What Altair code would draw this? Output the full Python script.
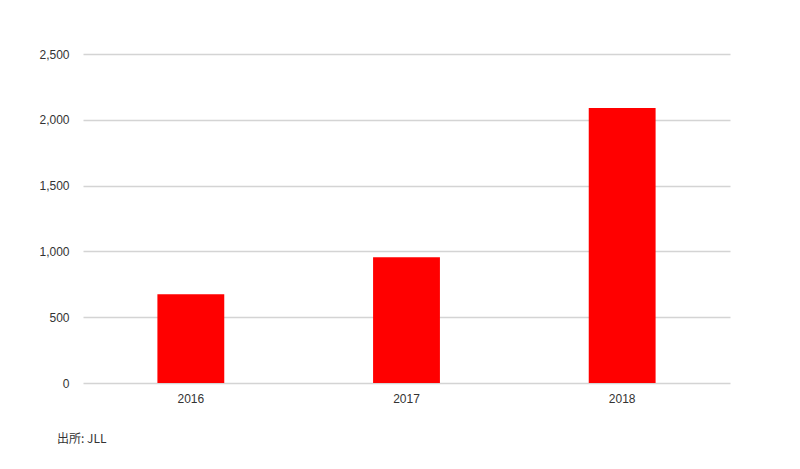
import altair as alt
import pandas as pd

years = ["2016", "2017", "2018"]
values = [675, 955, 2090]
source_text = "出所: JLL"

df = pd.DataFrame({"year": years, "value": values})

bars = alt.Chart(df).mark_bar(color="#ff0000").encode(
    x=alt.X("year:N", sort=years,
            scale=alt.Scale(paddingInner=0.69, paddingOuter=0.345),
            axis=alt.Axis(title=None, labelAngle=0, ticks=False, domain=False, grid=False,
                          labelPadding=10, labelFontSize=12, labelColor="#333333",
                          labelFont="Liberation Sans")),
    y=alt.Y("value:Q", scale=alt.Scale(domain=[0, 2500], nice=False),
            axis=alt.Axis(title=None, values=[0, 500, 1000, 1500, 2000, 2500],
                          format=",d", ticks=False, domain=False, labelPadding=14,
                          labelFontSize=12, labelColor="#333333",
                          labelFont="Liberation Sans", grid=True,
                          gridColor="#d4d4d4", gridWidth=1.5)),
)

chart = bars.properties(
    width=647, height=329,
    title=alt.TitleParams(source_text, orient="bottom", anchor="start", frame="group",
                          dx=-26, offset=30, fontSize=12, fontWeight="normal",
                          color="#333333", font="Noto Sans CJK JP"),
    padding={"left": 75, "top": 46, "right": 10, "bottom": 80},
    autosize=alt.AutoSizeParams(type="none"),
).configure_view(stroke=None)

chart.save("out.html", embed_options={"renderer": "svg", "actions": False})
